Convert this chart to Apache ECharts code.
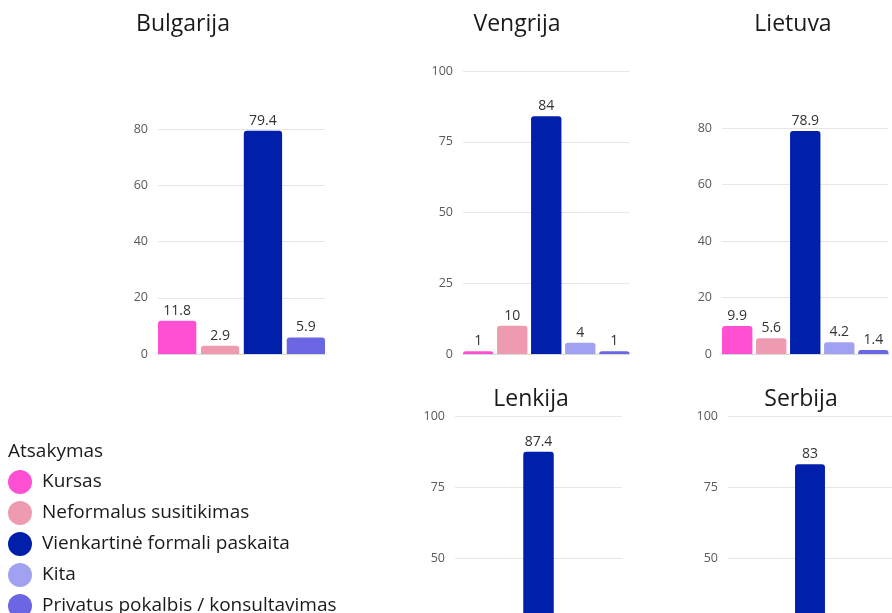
<!DOCTYPE html>
<html>
<head>
<meta charset="utf-8">
<script src="https://cdn.jsdelivr.net/npm/echarts@6/dist/echarts.min.js"></script>
<style>
  html, body { margin: 0; padding: 0; background: #ffffff; overflow: hidden; }
  #chart { width: 892px; height: 720px; }
</style>
</head>
<body>
<div id="chart"></div>
<script>
// Response types and their colours
const responses = ['Kursas', 'Neformalus susitikimas', 'Vienkartinė formali paskaita', 'Kita', 'Privatus pokalbis / konsultavimas'];
const responseColors = ['#ff4fd2', '#ee9bb1', '#001fab', '#a1a1f2', '#6b66e3'];

// Country panels
const countries = ['Bulgarija', 'Vengrija', 'Lietuva', 'Lenkija', 'Serbija'];

// Responses present in each panel and their shares (%)
const bulgarijaResponses = ['Kursas', 'Neformalus susitikimas', 'Vienkartinė formali paskaita', 'Privatus pokalbis / konsultavimas'];
const bulgarijaValues = [11.8, 2.9, 79.4, 5.9];

const vengrijaResponses = responses;
const vengrijaValues = [1, 10, 84, 4, 1];

const lietuvaResponses = responses;
const lietuvaValues = [9.9, 5.6, 78.9, 4.2, 1.4];

const lenkijaResponses = responses;
const lenkijaValues = [null, null, 87.4, null, null];

const serbijaResponses = responses;
const serbijaValues = [null, null, 83, null, null];

// Y-axis tick steps
const bulgarijaTickStep = 20;
const vengrijaTickStep = 25;
const lietuvaTickStep = 20;
const lenkijaTickStep = 25;
const serbijaTickStep = 25;
const axisMax = 100;

const panels = [
  { name: countries[0], resp: bulgarijaResponses, vals: bulgarijaValues, step: bulgarijaTickStep, hideTop: true,
    grid: { left: 158, top: 72.8, width: 167, height: 281.2 }, titleX: 183, titleY: 24 },
  { name: countries[1], resp: vengrijaResponses, vals: vengrijaValues, step: vengrijaTickStep, hideTop: false,
    grid: { left: 463, top: 71, width: 166.5, height: 283 }, titleX: 517, titleY: 24 },
  { name: countries[2], resp: lietuvaResponses, vals: lietuvaValues, step: lietuvaTickStep, hideTop: true,
    grid: { left: 722, top: 71.5, width: 166.5, height: 282.5 }, titleX: 793, titleY: 24 },
  { name: countries[3], resp: lenkijaResponses, vals: lenkijaValues, step: lenkijaTickStep, hideTop: false,
    grid: { left: 455, top: 416, width: 167, height: 284 }, titleX: 531, titleY: 399 },
  { name: countries[4], resp: serbijaResponses, vals: serbijaValues, step: serbijaTickStep, hideTop: false,
    grid: { left: 728, top: 416, width: 167, height: 284 }, titleX: 801, titleY: 399 }
];

const FONT = '"Open Sans", Lato, sans-serif';

const grids = [], xAxes = [], yAxes = [], series = [], graphics = [];

panels.forEach((p, i) => {
  grids.push(Object.assign({ containLabel: false }, p.grid));
  xAxes.push({
    type: 'category', gridIndex: i, data: [p.name],
    axisLine: { show: true, lineStyle: { color: '#d9d9d9', width: 1 } },
    axisTick: { show: false }, axisLabel: { show: false }, splitLine: { show: false }
  });
  yAxes.push({
    type: 'value', gridIndex: i, min: 0, max: axisMax, interval: p.step,
    axisLine: { show: false }, axisTick: { show: false },
    axisLabel: { color: '#595959', fontSize: 12.5, fontFamily: FONT, margin: 10, showMaxLabel: !p.hideTop },
    splitLine: { show: true, showMaxLine: !p.hideTop, lineStyle: { color: '#e6e6e6', width: 1 } }
  });
  p.resp.forEach((r, k) => {
    const ci = responses.indexOf(r);
    series.push({
      type: 'bar', name: r, xAxisIndex: i, yAxisIndex: i,
      data: [p.vals[k]],
      barGap: '12%', barCategoryGap: '0%',
      itemStyle: { color: responseColors[ci], borderRadius: [3, 3, 0, 0] },
      label: {
        show: true, position: 'top', distance: 3,
        color: '#333', fontSize: 14, fontFamily: FONT
      },
      emphasis: { disabled: true }
    });
  });
  graphics.push({
    type: 'text', x: p.titleX, y: p.titleY,
    style: { text: p.name, fill: '#1a1a1a', font: '23px ' + FONT, align: 'center', verticalAlign: 'middle', textAlign: 'center', textVerticalAlign: 'middle' }
  });
});

const chart = echarts.init(document.getElementById('chart'), null, { renderer: 'canvas' });
chart.setOption({
  animation: false,
  backgroundColor: '#ffffff',
  title: {
    text: 'Atsakymas', left: 3, top: 437,
    textStyle: { fontSize: 19, fontWeight: 'normal', color: '#1a1a1a', fontFamily: FONT }
  },
  legend: {
    data: responses, orient: 'vertical', left: 8, top: 470,
    icon: 'circle', itemWidth: 24, itemHeight: 24, itemGap: 7,
    padding: 0, selectedMode: false,
    textStyle: { fontSize: 19, color: '#1a1a1a', fontFamily: FONT, padding: [0, 0, 0, 5] }
  },
  grid: grids, xAxis: xAxes, yAxis: yAxes, series: series, graphic: graphics
});
</script>
</body>
</html>
